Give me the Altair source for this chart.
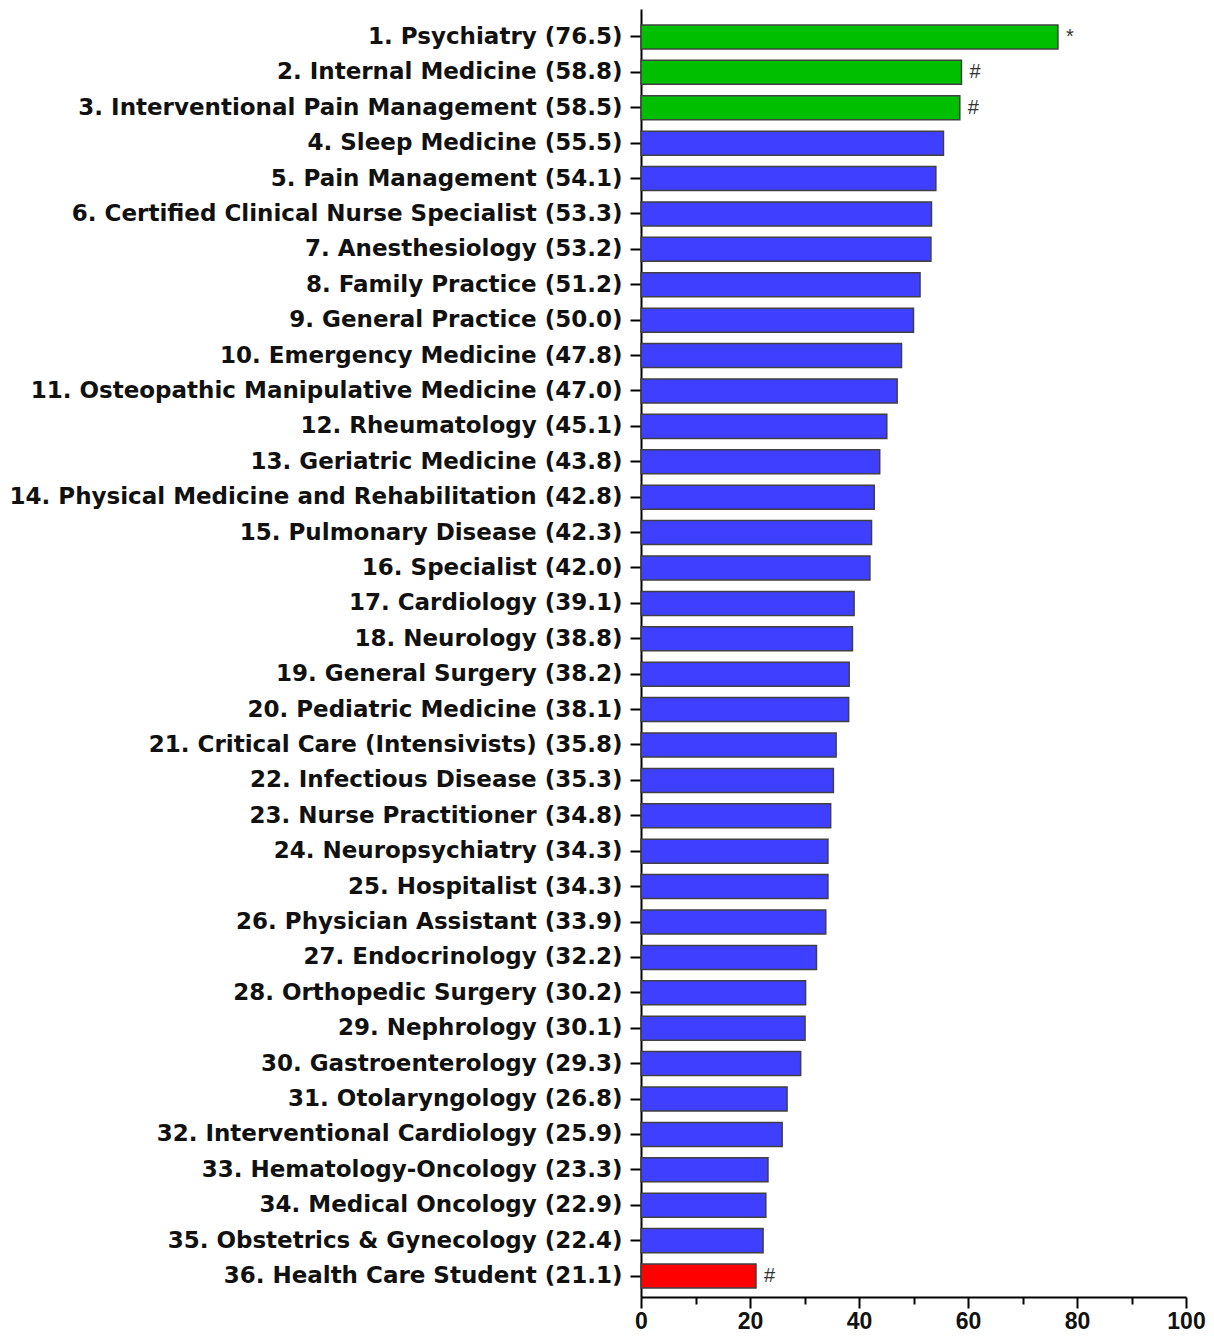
import altair as alt
import pandas as pd

specialties = [
    "Psychiatry", "Internal Medicine", "Interventional Pain Management", "Sleep Medicine",
    "Pain Management", "Certified Clinical Nurse Specialist", "Anesthesiology", "Family Practice",
    "General Practice", "Emergency Medicine", "Osteopathic Manipulative Medicine", "Rheumatology",
    "Geriatric Medicine", "Physical Medicine and Rehabilitation", "Pulmonary Disease", "Specialist",
    "Cardiology", "Neurology", "General Surgery", "Pediatric Medicine",
    "Critical Care (Intensivists)", "Infectious Disease", "Nurse Practitioner", "Neuropsychiatry",
    "Hospitalist", "Physician Assistant", "Endocrinology", "Orthopedic Surgery",
    "Nephrology", "Gastroenterology", "Otolaryngology", "Interventional Cardiology",
    "Hematology-Oncology", "Medical Oncology", "Obstetrics & Gynecology", "Health Care Student",
]
values = [
    76.5, 58.8, 58.5, 55.5, 54.1, 53.3, 53.2, 51.2, 50.0, 47.8, 47.0, 45.1,
    43.8, 42.8, 42.3, 42.0, 39.1, 38.8, 38.2, 38.1, 35.8, 35.3, 34.8, 34.3,
    34.3, 33.9, 32.2, 30.2, 30.1, 29.3, 26.8, 25.9, 23.3, 22.9, 22.4, 21.1,
]
groups = ["high"] * 3 + ["mid"] * 32 + ["low"]
marks = ["*", "#", "#"] + [""] * 32 + ["#"]
x_ticks = [0, 10, 20, 30, 40, 50, 60, 70, 80, 90, 100]

labels = [f"{i + 1}. {s} ({v:.1f})" for i, (s, v) in enumerate(zip(specialties, values))]
df = pd.DataFrame({"label": labels, "value": values, "group": groups, "mark": marks})

y_enc = alt.Y(
    "label:N",
    sort=labels,
    title=None,
    scale=alt.Scale(paddingInner=0.322, paddingOuter=0.352, align=0.64),
    axis=alt.Axis(
        labelFont="DejaVu Sans", labelFontSize=23, labelFontWeight="bold", labelColor="#111",
        labelPadding=8, tickSize=11, tickWidth=2, tickColor="#000",
        domainColor="#000", domainWidth=2, labelLimit=0,
    ),
)
x_enc = alt.X(
    "value:Q",
    title=None,
    scale=alt.Scale(domain=[0, 100], nice=False),
    axis=alt.Axis(
        values=x_ticks, grid=False, labelFlush=False,
        labelExpr="datum.value % 20 === 0 ? datum.label : ''",
        labelFont="Liberation Sans", labelFontSize=23, labelFontWeight="bold", labelColor="#111",
        labelPadding=2,
        tickSize={"condition": {"test": "datum.value % 20 === 0", "value": 11}, "value": 7},
        tickWidth=2, tickColor="#000", domainColor="#000", domainWidth=2,
    ),
)

bars = alt.Chart(df).mark_bar(stroke="#404040", strokeWidth=1.5).encode(
    y=y_enc,
    x=x_enc,
    color=alt.Color(
        "group:N",
        scale=alt.Scale(domain=["high", "mid", "low"], range=["#00BF00", "#3F3FFF", "#FF0000"]),
        legend=None,
    ),
)

notes = alt.Chart(df).mark_text(
    align="left", baseline="middle", dx=8, fontSize=20, font="Liberation Sans", color="#333"
).encode(
    y=alt.Y("label:N", sort=labels),
    x=alt.X("value:Q"),
    text="mark:N",
)

chart = (
    alt.layer(bars, notes)
    .properties(
        width=545,
        height=1288,
        autosize=alt.AutoSizeParams(type="none"),
        padding={"left": 633, "top": 1, "right": 20, "bottom": 39},
    )
    .configure_view(stroke=None)
)

chart.save("out.html", embed_options={"renderer": "svg", "actions": False})
